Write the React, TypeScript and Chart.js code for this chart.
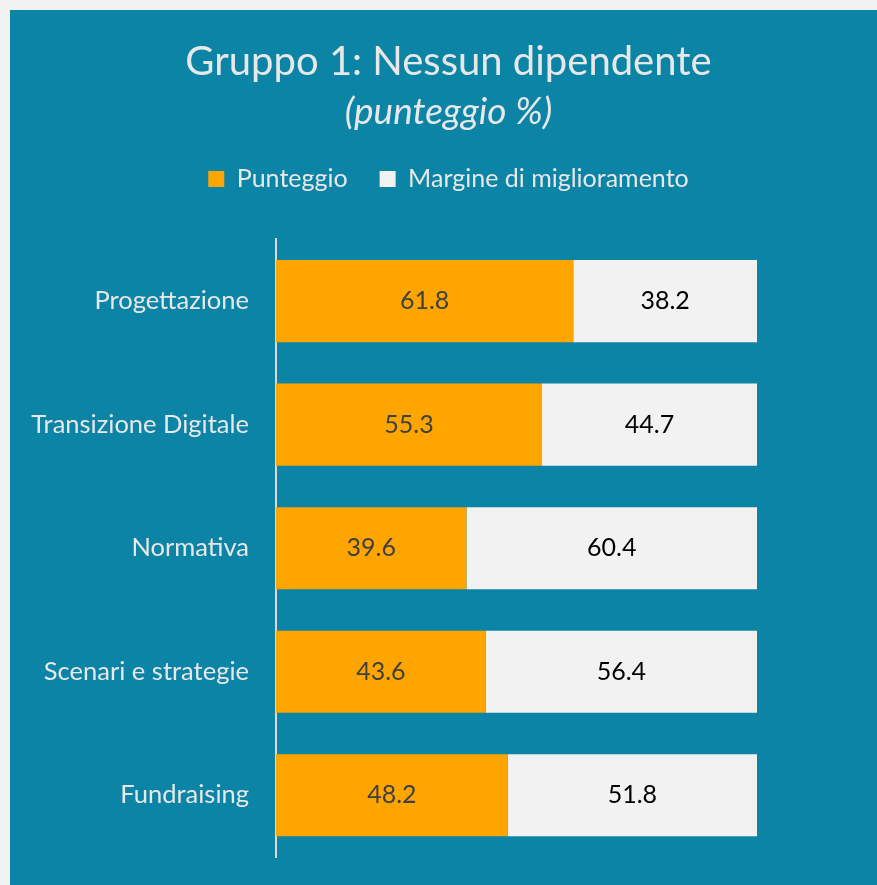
import React, { useEffect, useRef } from "react";
import { Chart, registerables } from "chart.js";

Chart.register(...registerables);

const categories = ["Progettazione", "Transizione Digitale", "Normativa", "Scenari e strategie", "Fundraising"];
const punteggio = [61.8, 55.3, 39.6, 43.6, 48.2];
const margine = [38.2, 44.7, 60.4, 56.4, 51.8];
const seriesNames = ["Punteggio", "Margine di miglioramento"];

const FONT = "Lato";
const TEXT = "#E8E8E8";
const BG = "#0B84A5";

const valueLabels = {
  id: "valueLabels",
  afterDatasetsDraw(chart: any) {
    const ctx = chart.ctx;
    ctx.save();
    ctx.font = `25px ${FONT}`;
    ctx.textAlign = "center";
    ctx.textBaseline = "middle";
    chart.data.datasets.forEach((ds: any, di: number) => {
      const meta = chart.getDatasetMeta(di);
      ctx.fillStyle = di === 0 ? "#404040" : "#000000";
      meta.data.forEach((el: any, i: number) => {
        const p = el.getCenterPoint();
        ctx.fillText(Number(ds.data[i]).toFixed(1), p.x, p.y);
      });
    });
    ctx.restore();
  },
};

export default function App() {
  const ref = useRef<HTMLCanvasElement>(null);
  useEffect(() => {
    document.body.style.margin = "0";
    document.body.style.background = "#F2F2F2";
    const chart = new Chart(ref.current!, {
      type: "bar",
      data: {
        labels: categories,
        datasets: [
          { label: seriesNames[0], data: punteggio, backgroundColor: "#FFA500", borderWidth: 0 },
          { label: seriesNames[1], data: margine, backgroundColor: "#F2F2F2", borderWidth: 0 },
        ],
      },
      options: {
        indexAxis: "y",
        animation: false,
        responsive: false,
        layout: { padding: { left: 10, right: 0, top: 0, bottom: 28 } },
        datasets: { bar: { barPercentage: 0.665, categoryPercentage: 1 } },
        scales: {
          x: {
            stacked: true,
            min: 0,
            max: 100,
            position: "top",
            display: true,
            ticks: { display: false },
            grid: { display: false },
            border: { display: false },
            afterFit: (s: any) => {
              s.height = 38;
              s.paddingLeft = 0;
              s.paddingRight = 0;
            },
          },
          y: {
            stacked: true,
            grid: { display: false, drawTicks: false },
            border: { display: true, color: "#D9D9D9", width: 2 },
            ticks: { color: TEXT, font: { family: FONT, size: 25.5 }, padding: 27 },
            afterFit: (s: any) => {
              s.width = 256;
              s.paddingTop = 0;
              s.paddingBottom = 0;
            },
          },
          y2: {
            type: "linear",
            position: "right",
            display: true,
            ticks: { display: false },
            grid: { display: false },
            border: { display: false },
            afterFit: (s: any) => {
              s.width = 120;
              s.paddingTop = 0;
              s.paddingBottom = 0;
            },
          },
        },
        plugins: {
          title: {
            display: true,
            text: "Gruppo 1: Nessun dipendente",
            color: TEXT,
            font: { family: FONT, size: 40, weight: "normal" },
            padding: { top: 28, bottom: 0 },
          },
          subtitle: {
            display: true,
            text: "(punteggio %)",
            color: TEXT,
            font: { family: FONT, size: 37, style: "italic", weight: "normal" },
            padding: { top: 4, bottom: 0 },
          },
          legend: {
            display: true,
            position: "top",
            labels: {
              color: TEXT,
              font: { family: FONT, size: 25 },
              boxWidth: 16,
              boxHeight: 16,
              padding: 32,
            },
          },
          tooltip: { enabled: false },
        },
      },
      plugins: [valueLabels],
    });
    return () => chart.destroy();
  }, []);
  return (
    <div style={{ position: "absolute", left: 10, top: 10, width: 867, height: 875, background: BG }}>
      <canvas ref={ref} width={867} height={875} style={{ display: "block" }} />
    </div>
  );
}
